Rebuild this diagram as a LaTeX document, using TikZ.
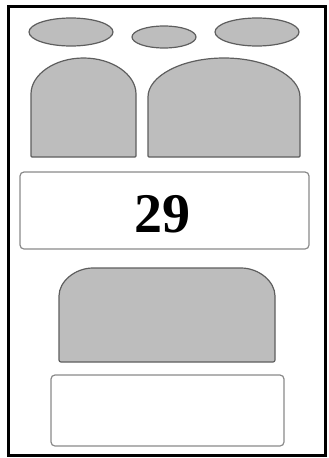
\documentclass[tikz,border=0pt]{standalone}
\usepackage{fontspec}
\setmainfont{Liberation Serif}
\usepackage{tikz}
\definecolor{shapefill}{HTML}{BDBDBD}
\definecolor{shapeedge}{HTML}{5E5E5E}
\definecolor{boxedge}{HTML}{8A8A8A}
\tikzset{
  blob/.style={fill=shapefill, draw=shapeedge, line width=1.2pt},
  whitebox/.style={draw=boxedge, line width=1.2pt, fill=white, rounded corners=4pt, inner sep=0pt}
}

\begin{document}
\begin{tikzpicture}[x=1pt, y=1pt]
\useasboundingbox (0,0) rectangle (329,-458);
\draw [line width=3pt] (8.5,-6) rectangle (325,-455);
\draw [blob] (71,-32) ellipse [x radius=42, y radius=14];
\draw [blob] (164,-37) ellipse [x radius=32, y radius=11];
\draw [blob] (257,-32) ellipse [x radius=42, y radius=14];
\draw [blob, rounded corners=1pt] (31,-157) -- (31,-95) arc [start angle=180, end angle=0, x radius=52.5, y radius=37] -- (136,-157) -- cycle;
\draw [blob, rounded corners=1pt] (148,-157) -- (148,-98) arc [start angle=180, end angle=0, x radius=76, y radius=40] -- (300,-157) -- cycle;
\node [whitebox, minimum width=289pt, minimum height=77pt] (score) at (164.5,-210.5) {};
\node [font=\fontsize{56}{60}\selectfont\bfseries, inner sep=0pt] (scoretext) at (162,-214) {29};
\draw [blob, rounded corners=2pt] (59,-362) -- (59,-298) arc [start angle=180, end angle=90, x radius=36, y radius=30] -- (239,-268) arc [start angle=90, end angle=0, x radius=36, y radius=30] -- (275,-362) -- cycle;
\node [whitebox, minimum width=233pt, minimum height=71pt] (blank) at (167.5,-410.5) {};
\end{tikzpicture}
\end{document}
